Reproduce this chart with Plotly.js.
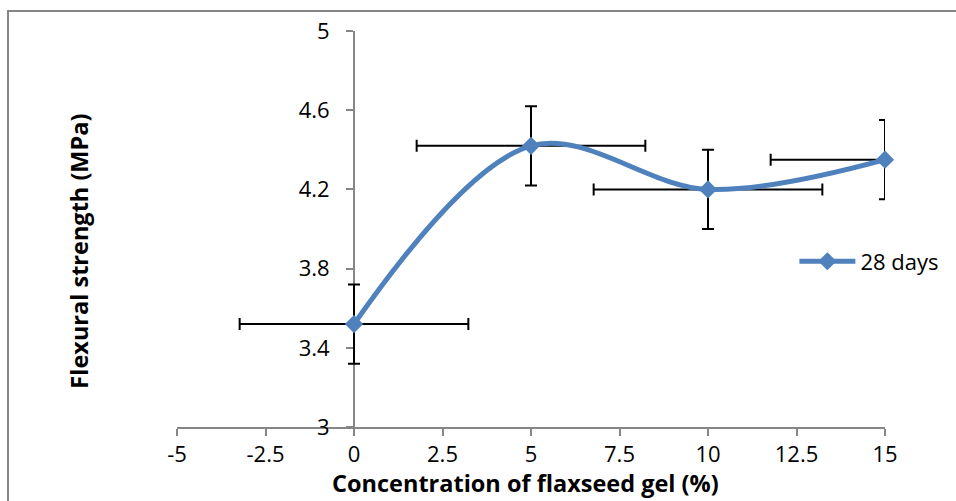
<!DOCTYPE html>
<html>
<head>
<meta charset="utf-8">
<script src="https://cdn.plot.ly/plotly-3.0.1.min.js"></script>
<style>
  html, body { margin: 0; padding: 0; background: #fff; }
  #wrap { position: relative; width: 956px; height: 501px; overflow: hidden; }
  #chart { width: 956px; height: 501px; }
  #frame { position: absolute; left: 7px; top: 10px; width: 960px; height: 500px;
           border-top: 2px solid #868686; border-left: 2px solid #868686; pointer-events: none; }
</style>
</head>
<body>
<div id="wrap">
  <div id="chart"></div>
  <div id="frame"></div>
</div>
<script>
// Data
const seriesName = "28 days";
const xTitle = "Concentration of flaxseed gel (%)";
const yTitle = "Flexural strength (MPa)";
const concentration = [0, 5, 10, 15];              // % flaxseed gel
const flexuralStrength = [3.52, 4.42, 4.20, 4.35]; // MPa
const yError = [0.2, 0.2, 0.2, 0.2];
const xErrorMinus = [3.23, 3.23, 3.23, 3.23];
const xErrorPlus = [3.23, 3.23, 3.23, 0];          // right arm at 15 is cut off by the axis end
const xTicks = [-5, -2.5, 0, 2.5, 5, 7.5, 10, 12.5, 15];
const yTicks = [3, 3.4, 3.8, 4.2, 4.6, 5];
const yTickText = ["3", "3.4", "3.8", "4.2", "4.6", "5"];

const blue = "#4F81BD";
const axisGray = "#868686";
const font = "Open Sans, Noto Sans, sans-serif";

const trace = {
  x: concentration,
  y: flexuralStrength,
  name: seriesName,
  type: "scatter",
  mode: "lines+markers",
  line: { color: blue, width: 5, shape: "spline", smoothing: 1 },
  marker: { symbol: "diamond", size: 14, color: blue, line: { width: 0 } },
  cliponaxis: false,
  error_y: { type: "data", array: yError, visible: true, color: "#000", thickness: 2, width: 6 },
  error_x: { type: "data", symmetric: false, array: xErrorPlus, arrayminus: xErrorMinus,
             visible: true, color: "#000", thickness: 2, width: 6 }
};

const layout = {
  width: 956, height: 501,
  margin: { l: 177, r: 69, t: 31, b: 74 },
  paper_bgcolor: "#fff", plot_bgcolor: "#fff",
  font: { family: font, size: 22, color: "#000" },
  showlegend: true,
  legend: { x: 0.872, y: 0.418, xanchor: "left", yanchor: "middle",
            font: { family: font, size: 22, color: "#000" }, itemwidth: 56,
            bgcolor: "rgba(0,0,0,0)" },
  xaxis: {
    range: [-5, 15], tickvals: xTicks, ticktext: xTicks.map(String),
    showgrid: false, zeroline: false, showline: true, linecolor: axisGray, linewidth: 2,
    ticks: "outside", ticklen: 7, tickwidth: 2, tickcolor: axisGray, layer: "below traces",
    tickfont: { family: font, size: 22, color: "#000" }
  },
  yaxis: {
    range: [3, 5], tickvals: yTicks, ticktext: yTickText,
    anchor: "free", position: 0.25,
    showgrid: false, zeroline: false, showline: true, linecolor: axisGray, linewidth: 2,
    ticks: "outside", ticklen: 7, tickwidth: 2, tickcolor: axisGray, ticklabelstandoff: 12,
    layer: "below traces",
    tickfont: { family: font, size: 22, color: "#000" }
  },
  annotations: [
    { text: "<b>" + xTitle + "</b>", xref: "paper", yref: "paper", x: 0.492, y: -0.1875,
      xanchor: "center", yanchor: "bottom", showarrow: false,
      font: { family: font, size: 23.5, color: "#000" } },
    { text: "<b>" + yTitle + "</b>", xref: "paper", yref: "paper", x: -0.1386, y: 0.445,
      xanchor: "center", yanchor: "middle", textangle: -90, showarrow: false,
      font: { family: font, size: 23.5, color: "#000" } }
  ]
};

Plotly.newPlot("chart", [trace], layout, { displayModeBar: false, staticPlot: true });
</script>
</body>
</html>
